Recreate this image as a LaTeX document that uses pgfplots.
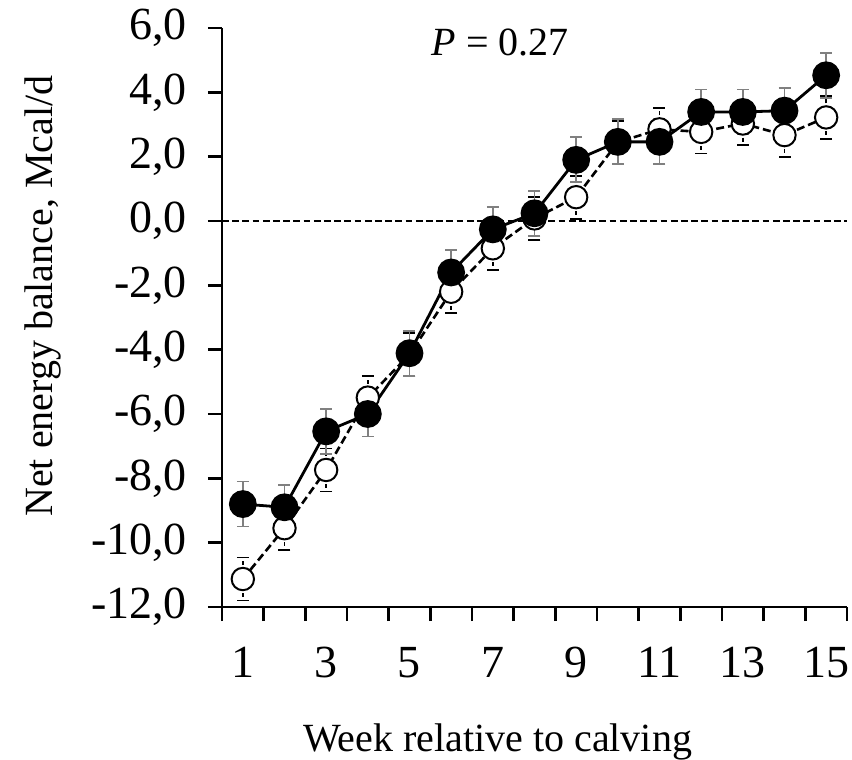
\documentclass[border=0pt]{standalone}
\usepackage{fontspec}
\setmainfont{Liberation Serif}
\usepackage{pgfplots}
\pgfplotsset{compat=1.18}

% mean +- SE, week relative to calving
\pgfplotstableread{
wk  nb      se
1   -8.80   0.70
2   -8.90   0.70
3   -6.54   0.70
4   -6.00   0.70
5   -4.11   0.70
6   -1.60   0.70
7   -0.26   0.70
8    0.24   0.70
9    1.90   0.70
10   2.46   0.70
11   2.46   0.70
12   3.39   0.70
13   3.39   0.70
14   3.43   0.70
15   4.53   0.70
}\filled
\pgfplotstableread{
wk  nb      se
1   -11.13  0.67
2   -9.55   0.67
3   -7.74   0.67
4   -5.49   0.67
5   -4.15   0.67
6   -2.20   0.67
7   -0.85   0.67
8    0.08   0.67
9    0.74   0.67
10   2.45   0.67
11   2.85   0.67
12   2.77   0.67
13   3.03   0.67
14   2.67   0.67
15   3.22   0.67
}\open

\begin{document}
\begin{tikzpicture}
\begin{axis}[
  at={(0,0)}, anchor=south west,
  scale only axis,
  width=312.5pt, height=289.5pt,
  xmin=0.5, xmax=15.5,
  ymin=-12, ymax=6,
  axis lines=left,
  axis line style={-, line width=1.3pt},
  tick align=outside,
  every tick/.style={black, line width=1.3pt},
  xtick={1,3,...,15},
  xticklabels={1,3,5,7,9,11,13,15},
  major x tick style={draw=none},
  minor xtick={0.5,1.5,...,15.5},
  minor tick length=7pt,
  major tick length=7pt,
  ytick={-12,-10,...,6},
  yticklabels={{-12,0},{-10,0},{-8,0},{-6,0},{-4,0},{-2,0},{0,0},{2,0},{4,0},{6,0}},
  tick label style={font=\fontsize{23}{23}\selectfont},
  yticklabel style={anchor=east, xshift=-7pt},
  xticklabel style={anchor=base, yshift=-28pt},
  xlabel={Week relative to calving},
  ylabel={Net energy balance, Mcal/d},
  label style={font=\fontsize{20}{20}\selectfont},
  xlabel style={at={(axis description cs:0.441,-0.2504)}, anchor=base},
  ylabel style={at={(axis description cs:-0.2704,0.537)}, anchor=base},
  clip=false,
]
\addplot[black, line width=0.9pt, dash pattern=on 3.4pt off 1.7pt] coordinates {(0.5,0) (15.5,0)};

\addplot[black, line width=1.3pt, dash pattern=on 4pt off 2pt,
  mark=*, mark size=5.6pt,
  mark options={solid, fill=white, draw=black, line width=1pt},
  error bars/.cd, y dir=both, y explicit,
  error bar style={black, line width=0.9pt, dash pattern=on 2pt off 1.5pt},
  error mark options={solid, black, line width=0.9pt, mark size=3pt, rotate=90}]
  table[x=wk, y=nb, y error=se] {\open};

\addplot[black, line width=1.4pt,
  mark=*, mark size=6.25pt,
  mark options={fill=black, draw=black},
  error bars/.cd, y dir=both, y explicit,
  error bar style={gray, line width=0.9pt, solid},
  error mark options={gray, line width=0.9pt, mark size=3pt, rotate=90}]
  table[x=wk, y=nb, y error=se] {\filled};

\node[anchor=base, font=\fontsize{20}{20}\selectfont] at (axis description cs:0.445,0.953) {\textit{P} = 0.27};
\end{axis}
\pgfresetboundingbox
\path[use as bounding box] (-111pt,-76.5pt) rectangle (315pt,303.5pt);
\end{tikzpicture}
\end{document}
